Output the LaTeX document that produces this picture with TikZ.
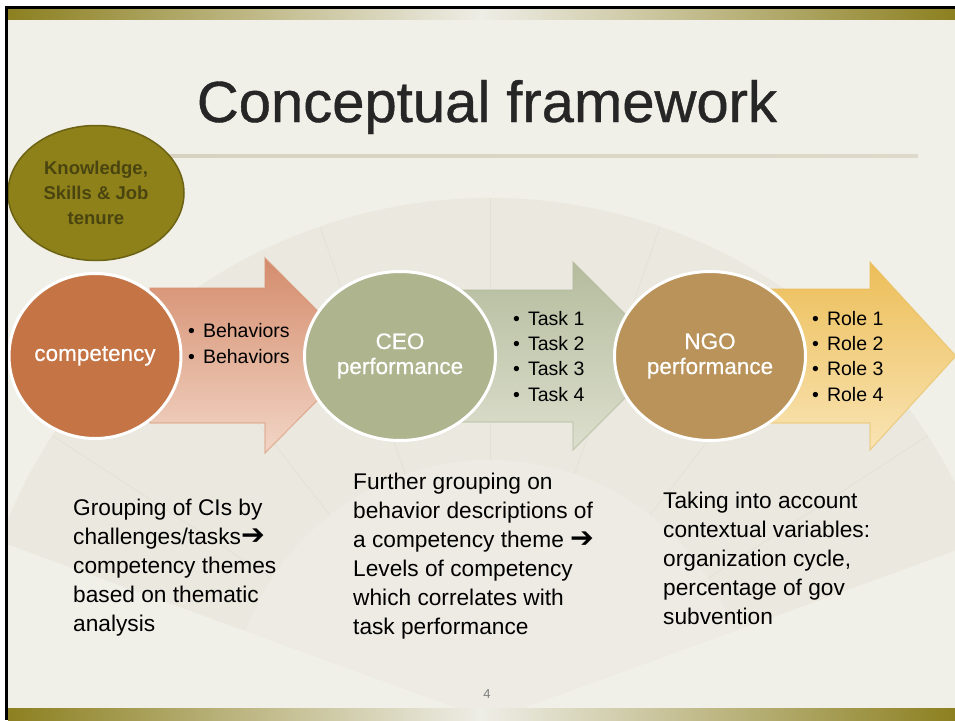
\documentclass[tikz,border=0pt]{standalone}
\usepackage{fontspec}
\setmainfont{Liberation Sans}
\newfontfamily\arrowfont{DejaVu Sans}
\newfontfamily\heavyfont[FakeBold=0.7]{Liberation Sans}
\newfontfamily\mediumfont[FakeBold=0.45]{Liberation Sans}
\usetikzlibrary{shapes.geometric}

\definecolor{paper}{HTML}{F1F0E8}
\definecolor{olivebar}{HTML}{8C8020}
\definecolor{barlight}{HTML}{EEEDE6}
\definecolor{fanpanel}{HTML}{E2E0D5}
\definecolor{fanline}{HTML}{D6D3C6}
\definecolor{titlegray}{HTML}{262626}
\definecolor{kfill}{HTML}{8E8119}
\definecolor{kdraw}{HTML}{6C6213}
\definecolor{ktext}{HTML}{4A4510}
\definecolor{compfill}{HTML}{C47445}
\definecolor{ceofill}{HTML}{AEB48E}
\definecolor{ngofill}{HTML}{B9935A}
\definecolor{arrAtop}{HTML}{D48C6C}
\definecolor{arrAbot}{HTML}{F2D5C6}
\definecolor{arrAedge}{HTML}{D9906F}
\definecolor{arrBtop}{HTML}{B5BC9D}
\definecolor{arrBbot}{HTML}{DCDFCE}
\definecolor{arrBedge}{HTML}{B1B898}
\definecolor{arrCtop}{HTML}{ECBE58}
\definecolor{arrCbot}{HTML}{F9E4B4}
\definecolor{arrCedge}{HTML}{E9BC5A}
\definecolor{ruledark}{HTML}{8B7F20}
\definecolor{ruleleft}{HTML}{D6D2BF}
\definecolor{ruleright}{HTML}{DDDACB}
\definecolor{pagegray}{HTML}{7F7F7F}

\newcommand{\bigarrow}{{\arrowfont\scalebox{1.25}{➔}}}

\begin{document}
% multi-line text nodes are placed by the baseline of their last line
\begin{tikzpicture}[x=1pt,y=-1pt,
  bubble/.style={ellipse, draw=white, line width=3pt, inner sep=0pt, text=white,
    align=center, font=\mediumfont\fontsize{22.5}{25}\selectfont},
  bullets/.style={anchor=base west, inner sep=0pt, align=left,
    font=\fontsize{19.5}{25.3}\selectfont},
  note/.style={anchor=base west, inner sep=0pt, align=left,
    font=\fontsize{22.7}{29}\selectfont},
  arrowshape/.style={line width=1.2pt, draw opacity=0.55},
]
\useasboundingbox (0,0) rectangle (955,720);

% page and paper
\fill[white] (0,0) rectangle (955,720);
\fill[paper] (8,9) rectangle (955,720);

% faint fan in the background
\begin{scope}
  \clip (8,19) rectangle (955,708);
  \begin{scope}[shift={(490,720)}]
    \fill[fanpanel, opacity=0.45] (0,0) -- (200:522)
      arc[start angle=200, end angle=340, radius=522] -- cycle;
    \foreach \a in {213,232,...,340}
      \draw[fanline, line width=0.6pt, opacity=0.35] (\a:260) -- (\a:522);
    \fill[paper, opacity=0.45] (0,0) -- (200:260)
      arc[start angle=200, end angle=340, radius=260] -- cycle;
  \end{scope}
\end{scope}

% top and bottom bars
\shade[left color=olivebar, right color=olivebar, middle color=barlight]
  (8,9) rectangle (955,19);
\shade[left color=olivebar, right color=olivebar, middle color=barlight]
  (8,708) rectangle (955,720);

% title and rule
\node[anchor=base, inner sep=0pt, font=\heavyfont\fontsize{58}{60}\selectfont,
  text=titlegray] (title) at (487,122) {Conceptual framework};
\shade[left color=ruleleft, middle color=ruledark, right color=ruleright]
  (165,154.5) rectangle (918,157.5);

% block arrows
\shade[arrowshape, draw=arrAedge, top color=arrAtop, bottom color=arrAbot]
  (150,288) -- (265,288) -- (265,258) -- (362,355.5) -- (265,453) -- (265,423)
  -- (150,423) -- cycle;
\shade[arrowshape, draw=arrBedge, top color=arrBtop, bottom color=arrBbot]
  (450,290) -- (573,290) -- (573,262) -- (667,356) -- (573,450) -- (573,422)
  -- (450,422) -- cycle;
\shade[arrowshape, draw=arrCedge, top color=arrCtop, bottom color=arrCbot]
  (760,289) -- (870,289) -- (870,262) -- (956,356) -- (870,450) -- (870,423)
  -- (760,423) -- cycle;

% ellipses
\node[ellipse, draw=kdraw, line width=1.5pt, fill=kfill, minimum width=176,
  minimum height=135, inner sep=0pt, text=ktext, align=center,
  font=\bfseries\fontsize{18.5}{25}\selectfont]
  (ksj) at (96,193) {Knowledge,\\Skills \& Job\\tenure};
\node[bubble, fill=compfill, minimum width=172, minimum height=165]
  (comp) at (95,356) {competency};
\node[bubble, fill=ceofill, minimum width=191, minimum height=169]
  (ceo) at (400,356) {CEO\\performance};
\node[bubble, fill=ngofill, minimum width=191, minimum height=169]
  (ngo) at (710,356) {NGO\\performance};

% bullet lists on the arrows
\node[bullets] (beh) at (188,363)
  {•\kern8pt Behaviors\\•\kern8pt Behaviors};
\node[bullets] (tasks) at (513,401)
  {•\kern8pt Task 1\\•\kern8pt Task 2\\•\kern8pt Task 3\\•\kern8pt Task 4};
\node[bullets] (roles) at (812,401)
  {•\kern8pt Role 1\\•\kern8pt Role 2\\•\kern8pt Role 3\\•\kern8pt Role 4};

% notes below
\node[note] (n1) at (73,631)
  {Grouping of CIs by\\challenges/tasks\bigarrow\\competency themes\\based on thematic\\analysis};
\node[note] (n2) at (353,634)
  {Further grouping on\\behavior descriptions of\\a competency theme \bigarrow\\Levels of competency\\which correlates with\\task performance};
\node[note] (n3) at (663,624)
  {Taking into account\\contextual variables:\\organization cycle,\\percentage of gov\\subvention};

% page number
\node[inner sep=0pt, font=\fontsize{13}{14}\selectfont, text=pagegray]
  (pg) at (487,694) {4};

% frame
\fill[black] (5,6) rectangle (955,9);
\fill[black] (5,6) rectangle (8,720);
\end{tikzpicture}
\end{document}
